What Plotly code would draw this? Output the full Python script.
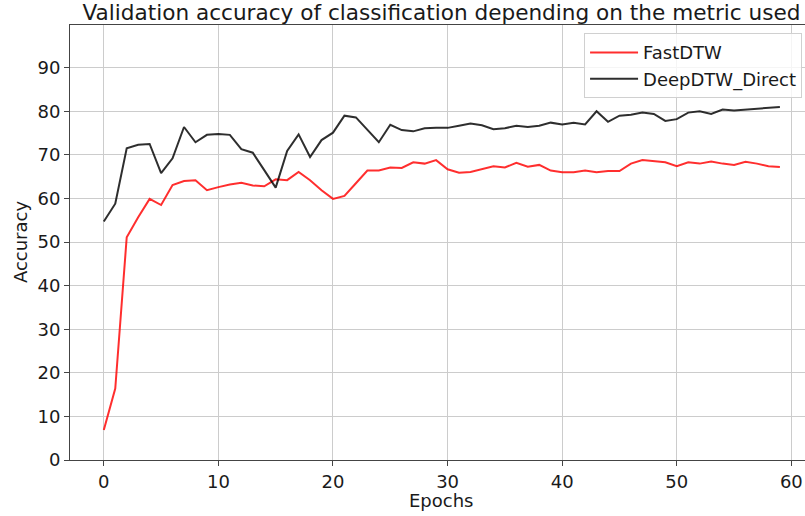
import plotly.graph_objects as go

epochs = list(range(60))
fastdtw = [6.9, 16.4, 51.1, 55.7, 59.9, 58.5, 63.1, 64.0, 64.2, 61.9,
           62.6, 63.2, 63.6, 63.0, 62.8, 64.4, 64.2, 66.1, 64.2, 61.9,
           59.9, 60.6, 63.5, 66.4, 66.4, 67.1, 67.0, 68.3, 68.0, 68.8,
           66.7, 65.9, 66.1, 66.7, 67.4, 67.1, 68.2, 67.3, 67.7, 66.4,
           66.0, 66.0, 66.4, 66.0, 66.3, 66.3, 68.0, 68.8, 68.5, 68.3,
           67.4, 68.3, 68.0, 68.5, 68.0, 67.7, 68.4, 68.0, 67.4, 67.2]
deepdtw = [54.7, 58.8, 71.5, 72.3, 72.5, 65.8, 69.2, 76.4, 72.9, 74.6,
           74.8, 74.6, 71.3, 70.5, 66.5, 62.5, 70.9, 74.7, 69.5, 73.4,
           75.1, 79.0, 78.6, 75.8, 72.9, 76.9, 75.7, 75.4, 76.1, 76.2,
           76.2, 76.7, 77.2, 76.8, 75.9, 76.1, 76.7, 76.4, 76.7, 77.4,
           77.0, 77.4, 77.0, 80.0, 77.6, 79.0, 79.2, 79.7, 79.4, 77.8,
           78.2, 79.7, 80.0, 79.4, 80.4, 80.2, 80.4, 80.5, 80.7, 81.0]
x_ticks = [0, 10, 20, 30, 40, 50, 60]
y_ticks = [0, 10, 20, 30, 40, 50, 60, 70, 80, 90]

FONT = "DejaVu Sans"
TXT = "#1a1a1a"
fig = go.Figure()
fig.add_trace(go.Scatter(x=epochs, y=fastdtw, mode="lines", name="FastDTW",
                         legendgroup="a",
                         line=dict(color="rgba(255,0,0,0.82)", width=2)))
fig.add_trace(go.Scatter(x=epochs, y=deepdtw, mode="lines", name="DeepDTW_Direct",
                         legendgroup="b",
                         line=dict(color="rgba(0,0,0,0.82)", width=2)))

axis_common = dict(
    showgrid=True, gridcolor="#cccccc", gridwidth=1,
    showline=True, linecolor="#444444", linewidth=1,
    ticks="outside", ticklen=5, tickcolor="#444444", tickwidth=1,
    tickfont=dict(family=FONT, size=18, color=TXT),
    zeroline=False, automargin=False,
)
fig.update_layout(
    width=805, height=516,
    margin=dict(l=70, r=0, t=25, b=56),
    plot_bgcolor="white", paper_bgcolor="white",
    font=dict(family=FONT, size=18, color=TXT),
    title=dict(text="Validation accuracy of classification depending on the metric used",
               x=0.5054, xref="paper", xanchor="center",
               y=1 - 12 / 516, yref="container", yanchor="middle",
               font=dict(family=FONT, size=21.6, color=TXT)),
    xaxis=dict(range=[-2.95, 61.19], tickvals=x_ticks, mirror=True, **axis_common),
    yaxis=dict(range=[0, 99.8], tickvals=y_ticks, **axis_common),
    legend=dict(x=0.996, y=0.981, xanchor="right", yanchor="top",
                bgcolor="rgba(255,255,255,0.8)", bordercolor="#d0d0d0", borderwidth=1,
                font=dict(family=FONT, size=18, color=TXT),
                traceorder="grouped", tracegroupgap=0, itemwidth=48),
    showlegend=True,
    annotations=[
        dict(text="Epochs", xref="paper", yref="paper", x=0.5054, y=-0.092,
             xanchor="center", yanchor="middle", showarrow=False,
             font=dict(family=FONT, size=18, color=TXT)),
        dict(text="Accuracy", xref="paper", yref="paper", x=-0.068, y=0.501,
             xanchor="center", yanchor="middle", showarrow=False, textangle=-90,
             font=dict(family=FONT, size=18, color=TXT)),
    ],
)
fig.write_html("out.html", config={"displayModeBar": False},
               post_script="document.body.style.margin='0';document.body.style.overflow='hidden';")
